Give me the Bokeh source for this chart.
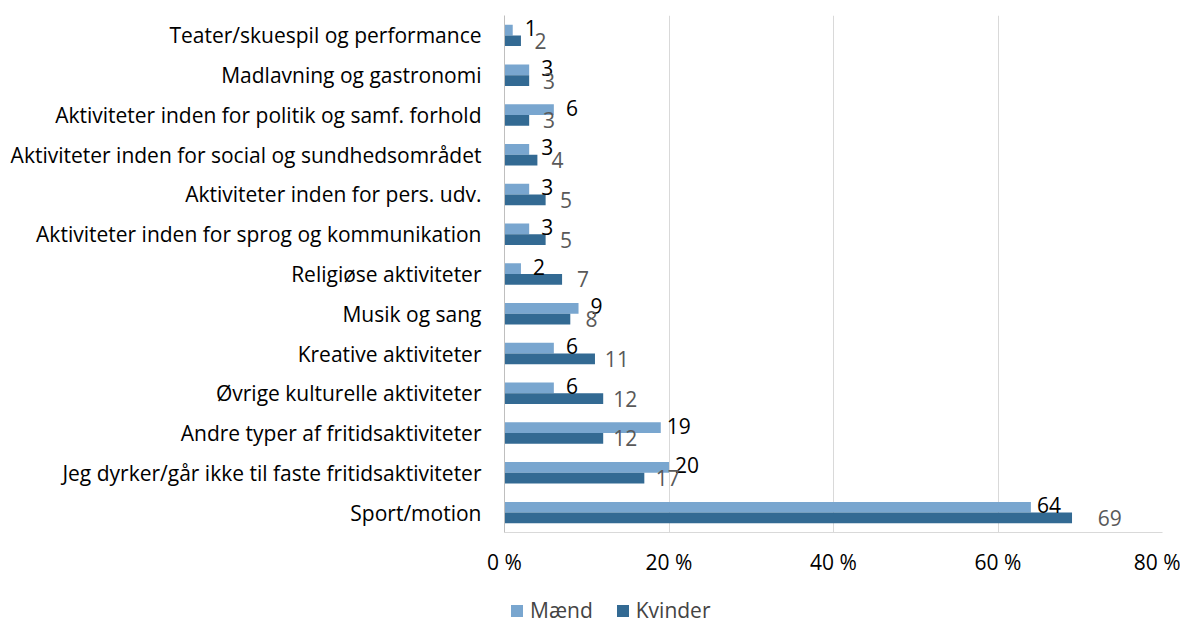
from bokeh.plotting import figure
from bokeh.layouts import column
from bokeh.models import ColumnDataSource, FactorRange, Legend, LegendItem, PrintfTickFormatter, FixedTicker
from bokeh.transform import dodge
from bokeh.core.properties import value
from bokeh.embed import file_html
from bokeh.resources import INLINE

categories = [
    "Teater/skuespil og performance",
    "Madlavning og gastronomi",
    "Aktiviteter inden for politik og samf. forhold",
    "Aktiviteter inden for social og sundhedsområdet",
    "Aktiviteter inden for pers. udv.",
    "Aktiviteter inden for sprog og kommunikation",
    "Religiøse aktiviteter",
    "Musik og sang",
    "Kreative aktiviteter",
    "Øvrige kulturelle aktiviteter",
    "Andre typer af fritidsaktiviteter",
    "Jeg dyrker/går ikke til faste fritidsaktiviteter",
    "Sport/motion",
]
maend = [1, 3, 6, 3, 3, 3, 2, 9, 6, 6, 19, 20, 64]
kvinder = [2, 3, 3, 4, 5, 5, 7, 8, 11, 12, 12, 17, 69]
x_ticks = [0, 20, 40, 60, 80]
series = ["Mænd", "Kvinder"]

FONT = "Open Sans"
FS = "21px"
C_M = "#79A6CF"
C_K = "#336A93"

src = ColumnDataSource(dict(
    cat=categories, m=maend, k=kvinder,
    ml=[str(v) for v in maend], kl=[str(v) for v in kvinder],
    mx=[v + 2.2 for v in maend], kx=[v * 1.033 + 2.3 for v in kvinder],
))

W = 1180
p = figure(width=W, height=592, output_backend="svg", toolbar_location=None,
           y_range=FactorRange(factors=list(reversed(categories))),
           x_range=(0, 80))
p.min_border_left = 504
p.min_border_right = 18
p.min_border_top = 15
p.min_border_bottom = 60
p.outline_line_color = None

bh = 0.27
off = 0.135
rm = p.hbar(y=dodge("cat", off, range=p.y_range), right="m", left=0, height=bh,
            source=src, fill_color=C_M, line_color=None)
rk = p.hbar(y=dodge("cat", -off, range=p.y_range), right="k", left=0, height=bh,
            source=src, fill_color=C_K, line_color=None)

p.text(x="mx", y=dodge("cat", off + 0.05, range=p.y_range), text="ml", source=src,
       text_font=value(FONT), text_font_size=FS, text_color="#000000",
       text_align="center", text_baseline="middle")
p.text(x="kx", y=dodge("cat", -off, range=p.y_range), text="kl", source=src,
       text_font=value(FONT), text_font_size=FS, text_color="#595959",
       text_align="center", text_baseline="middle")

p.xaxis.ticker = FixedTicker(ticks=x_ticks)
p.xaxis.formatter = PrintfTickFormatter(format="%d %%")
p.xaxis.major_tick_line_color = None
p.xaxis.minor_tick_line_color = None
p.xaxis.axis_line_color = "#D9D9D9"
p.xaxis.major_label_text_font = FONT
p.xaxis.major_label_text_font_size = FS
p.xaxis.major_label_text_color = "#000000"
p.xaxis.major_label_standoff = 9

p.yaxis.major_tick_line_color = None
p.yaxis.minor_tick_line_color = None
p.yaxis.axis_line_color = "#BFBFBF"
p.yaxis.major_label_text_font = FONT
p.yaxis.major_label_text_font_size = FS
p.yaxis.major_label_text_color = "#000000"
p.yaxis.major_label_standoff = 17

p.ygrid.grid_line_color = None
p.xgrid.grid_line_color = "#D9D9D9"
p.xgrid.grid_line_width = 1

# legend strip below the chart (proxy glyphs lie outside the visible range)
H2 = 32
p2 = figure(width=W, height=H2, output_backend="svg", toolbar_location=None,
            x_range=(0, 1), y_range=(0, 1), min_border=0)
p2.axis.visible = False
p2.grid.visible = False
p2.outline_line_color = None
proxy = ColumnDataSource(dict(y=[-100], l=[-100], r=[-90]))
lm = p2.hbar(y="y", left="l", right="r", height=1, source=proxy, fill_color=C_M, line_color=None)
lk = p2.hbar(y="y", left="l", right="r", height=1, source=proxy, fill_color=C_K, line_color=None)
legend = Legend(items=[LegendItem(label=series[0], renderers=[lm]),
                       LegendItem(label=series[1], renderers=[lk])],
                orientation="horizontal", location=(5, 0),
                label_text_font=FONT, label_text_font_size=FS,
                glyph_width=15, glyph_height=15, spacing=22, label_standoff=6,
                border_line_color=None, background_fill_alpha=0, margin=0,
                padding=0)
p2.add_layout(legend, "center")

layout = column(p, p2, spacing=0)
open("out.html", "w").write(file_html(layout, INLINE))
